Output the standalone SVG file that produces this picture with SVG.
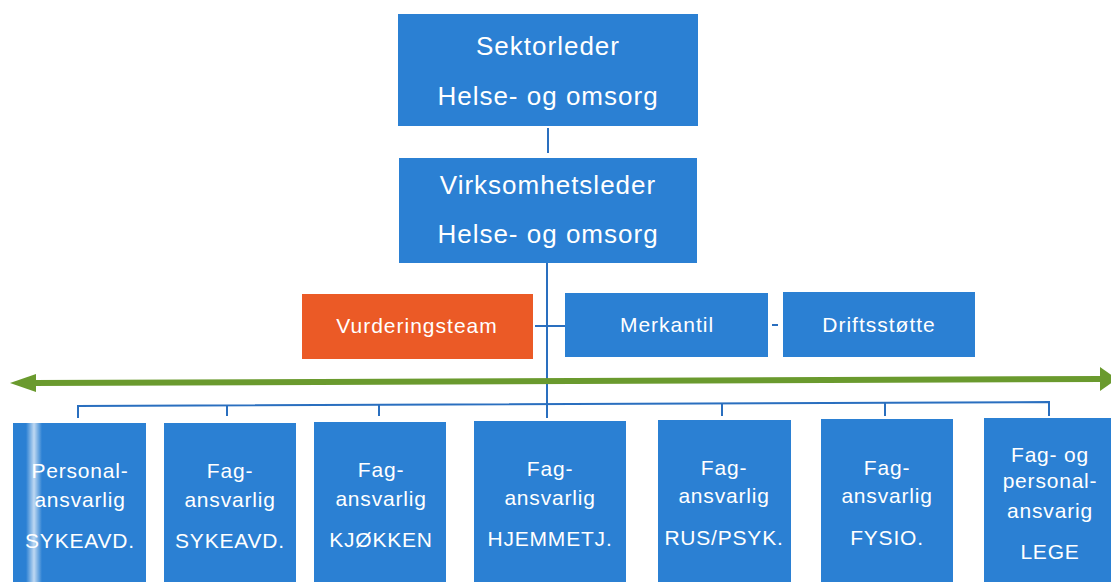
<svg xmlns="http://www.w3.org/2000/svg" width="1111" height="582" viewBox="0 0 1111 582">
<defs>
<style>
.box{fill:#2b80d3;}
.org{fill:#eb5a26;}
.t{font-family:"Liberation Sans",Arial,sans-serif;fill:#fff;text-anchor:middle;}
.big{font-size:26px;letter-spacing:1px;}
.mid{font-size:21px;letter-spacing:1px;}
.sm{font-size:21px;letter-spacing:0.8px;}
.ln{stroke:#2a6fbf;stroke-width:2;fill:none;}
.arr{fill:#6a9a2e;}
</style>
<linearGradient id="glare" x1="0" y1="0" x2="1" y2="0">
<stop offset="0" stop-color="#fff" stop-opacity="0"/>
<stop offset="0.5" stop-color="#fff" stop-opacity="0.7"/>
<stop offset="1" stop-color="#fff" stop-opacity="0"/>
</linearGradient>
</defs>

<g id="connectors">
<line class="ln" x1="548" y1="128" x2="548" y2="153"/>
<line class="ln" x1="547" y1="263" x2="547" y2="418"/>
<line class="ln" x1="535" y1="326" x2="565" y2="326"/>
<line class="ln" x1="772" y1="325" x2="778" y2="325"/>
<polyline class="ln" points="78,418 78,406 1049,402 1049,416"/>
<line class="ln" x1="227" y1="406" x2="227" y2="416"/>
<line class="ln" x1="379" y1="405" x2="379" y2="416"/>
<line class="ln" x1="722" y1="404" x2="722" y2="416"/>
<line class="ln" x1="885" y1="403" x2="885" y2="416"/>
<g id="timeline">
<line x1="32" y1="383" x2="1102" y2="379" stroke="#6a9a2e" stroke-width="6"/>
<polygon class="arr" points="10,383 36,374 36,392"/>
<polygon class="arr" points="1100,367 1117,379 1100,391"/>
</g>
</g>

<g id="n-sektorleder">
<rect class="box" x="398" y="14" width="300" height="112"/>
<text class="t big" x="548" y="55">Sektorleder</text>
<text class="t big" x="548" y="105">Helse- og omsorg</text>
</g>
<g id="n-virksomhetsleder">
<rect class="box" x="399" y="158" width="298" height="105"/>
<text class="t big" x="548" y="194">Virksomhetsleder</text>
<text class="t big" x="548" y="243">Helse- og omsorg</text>
</g>
<g id="n-vurderingsteam">
<rect class="org" x="302" y="294" width="231" height="65"/>
<text class="t mid" x="417" y="333">Vurderingsteam</text>
</g>
<g id="n-merkantil">
<rect class="box" x="565" y="293" width="203" height="64"/>
<text class="t mid" x="667" y="332">Merkantil</text>
</g>
<g id="n-driftsstotte">
<rect class="box" x="783" y="292" width="192" height="65"/>
<text class="t mid" x="879" y="332">Driftsstøtte</text>
</g>

<g id="n-personal-sykeavd">
<rect class="box" x="13" y="423" width="133" height="165"/>
<rect x="26" y="423" width="16" height="165" fill="url(#glare)"/>
<text class="t sm" x="80" y="478">Personal-</text>
<text class="t sm" x="80" y="507">ansvarlig</text>
<text class="t sm" x="80" y="548">SYKEAVD.</text>
</g>
<g id="n-fag-sykeavd">
<rect class="box" x="164" y="423" width="132" height="165"/>
<text class="t sm" x="230" y="478">Fag-</text>
<text class="t sm" x="230" y="507">ansvarlig</text>
<text class="t sm" x="230" y="548">SYKEAVD.</text>
</g>
<g id="n-fag-kjokken">
<rect class="box" x="314" y="422" width="132" height="166"/>
<text class="t sm" x="381" y="477">Fag-</text>
<text class="t sm" x="381" y="506">ansvarlig</text>
<text class="t sm" x="381" y="547">KJØKKEN</text>
</g>
<g id="n-fag-hjemmetj">
<rect class="box" x="474" y="421" width="152" height="167"/>
<text class="t sm" x="550" y="476">Fag-</text>
<text class="t sm" x="550" y="505">ansvarlig</text>
<text class="t sm" x="550" y="546">HJEMMETJ.</text>
</g>
<g id="n-fag-ruspsyk">
<rect class="box" x="658" y="420" width="133" height="168"/>
<text class="t sm" x="724" y="475">Fag-</text>
<text class="t sm" x="724" y="503">ansvarlig</text>
<text class="t sm" x="724" y="545">RUS/PSYK.</text>
</g>
<g id="n-fag-fysio">
<rect class="box" x="821" y="419" width="132" height="169"/>
<text class="t sm" x="887" y="475">Fag-</text>
<text class="t sm" x="887" y="503">ansvarlig</text>
<text class="t sm" x="887" y="545">FYSIO.</text>
</g>
<g id="n-lege">
<rect class="box" x="984" y="418" width="140" height="170"/>
<text class="t sm" x="1050" y="462">Fag- og</text>
<text class="t sm" x="1050" y="488">personal-</text>
<text class="t sm" x="1050" y="518">ansvarig</text>
<text class="t sm" x="1050" y="559">LEGE</text>
</g>
</svg>
